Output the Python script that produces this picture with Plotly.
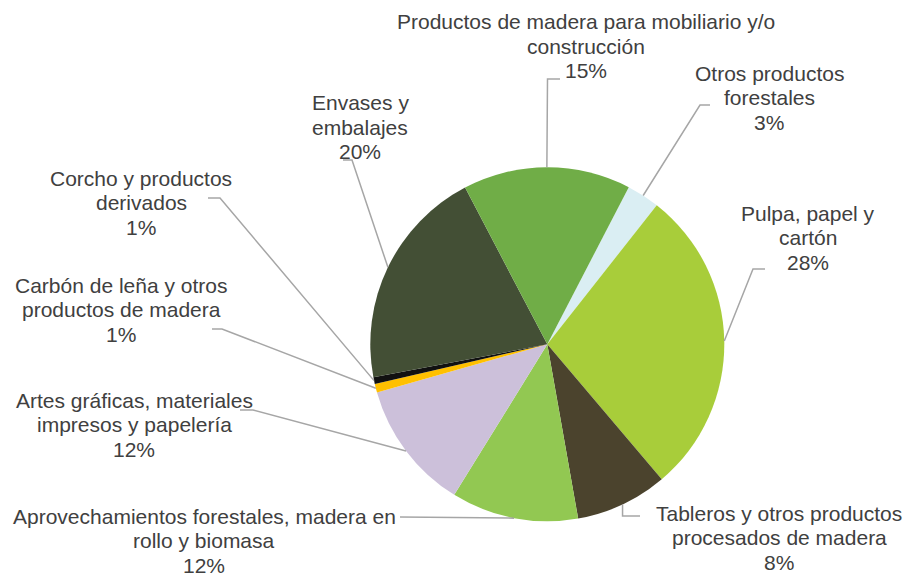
import math
import plotly.graph_objects as go

W, H = 910, 576

# Data (clockwise order starting just right of 12 o'clock)
categories = [
    "Otros productos forestales",
    "Pulpa, papel y cartón",
    "Tableros y otros productos procesados de madera",
    "Aprovechamientos forestales, madera en rollo y biomasa",
    "Artes gráficas, materiales impresos y papelería",
    "Carbón de leña y otros productos de madera",
    "Corcho y productos derivados",
    "Envases y embalajes",
    "Productos de madera para mobiliario y/o construcción",
]
values = [3.0, 28.2, 8.4, 11.6, 11.8, 0.8, 0.6, 20.3, 15.3]
label_lines = [
    ["Otros productos", "forestales"],
    ["Pulpa, papel y", "cartón"],
    ["Tableros y otros productos", "procesados de madera"],
    ["Aprovechamientos forestales, madera en", "rollo y biomasa"],
    ["Artes gráficas, materiales", "impresos y papelería"],
    ["Carbón de leña y otros", "productos de madera"],
    ["Corcho y productos", "derivados"],
    ["Envases y", "embalajes"],
    ["Productos de madera para mobiliario y/o", "construcción"],
]
colors = ["#DAEEF3", "#A8CD3A", "#4B432D", "#92C852", "#CCC0DA",
          "#FFC000", "#111111", "#434F35", "#70AD47"]

# Layout (pixels)
CX, CY, R = 547.3, 344.3, 177.0
ROT = 27.4
# label layout: (center x, first line center y)
label_pos = [(769, 73), (808, 213), (779, 513), (204, 516), (134, 400),
             (121, 285), (141, 178), (360, 103), (586, 22)]
# leader line start points near labels (list of pixel points before slice edge)
leader_start = [
    [(710, 105), (700, 105)],
    [(765, 269), (753, 269)],
    None,  # tableros: elbow handled below
    [(400, 517)],
    [(240, 410), (253, 410)],
    [(212, 329), (222, 329)],
    [(208, 198), (220, 198)],
    [(343, 160), (352, 160)],
    [(560, 79), (547.5, 79)],
]
LINE_SP = 24.5
TEXT_COLOR = "#404040"
FONT = "Liberation Sans, Arial, sans-serif"


def px(x):
    return x / W


def py(y):
    return 1 - y / H


fig = go.Figure(go.Pie(
    labels=categories,
    values=values,
    sort=False,
    direction="clockwise",
    rotation=ROT,
    marker=dict(colors=colors, line=dict(width=0)),
    textinfo="none",
    hoverinfo="label+percent",
    domain=dict(x=[px(CX - R), px(CX + R)], y=[py(CY + R), py(CY - R)]),
    showlegend=False,
))

total = sum(values)
annotations = []
shapes = []
cum = 0.0
for i, v in enumerate(values):
    mid = ROT + (cum + v / 2) / total * 360.0
    cum += v
    a = math.radians(mid)
    ex, ey = CX + R * math.sin(a), CY - R * math.cos(a)
    if leader_start[i] is None:
        pts = [(ex, ey), (ex, 516), (640, 516)]
    else:
        pts = leader_start[i] + [(ex, ey)]
    path = "M " + " L ".join(f"{px(x):.5f},{py(y):.5f}" for x, y in pts)
    shapes.append(dict(type="path", xref="paper", yref="paper", path=path,
                       line=dict(color="#A6A6A6", width=1.5)))
    lines = label_lines[i] + [f"{v:.0f}%"]
    lx, ly = label_pos[i]
    for k, t in enumerate(lines):
        annotations.append(dict(
            x=px(lx), y=py(ly + k * LINE_SP), xref="paper", yref="paper",
            text=t, showarrow=False, xanchor="center", yanchor="middle",
            font=dict(family=FONT, size=21, color=TEXT_COLOR),
            bgcolor="rgba(0,0,0,0)",
        ))

fig.update_layout(
    width=W, height=H,
    margin=dict(l=0, r=0, t=0, b=0),
    paper_bgcolor="white",
    plot_bgcolor="white",
    annotations=annotations,
    shapes=shapes,
)

fig.write_html(
    "out.html",
    config={"displayModeBar": False},
    post_script="document.body.style.margin='0';document.body.style.overflow='hidden';",
)
